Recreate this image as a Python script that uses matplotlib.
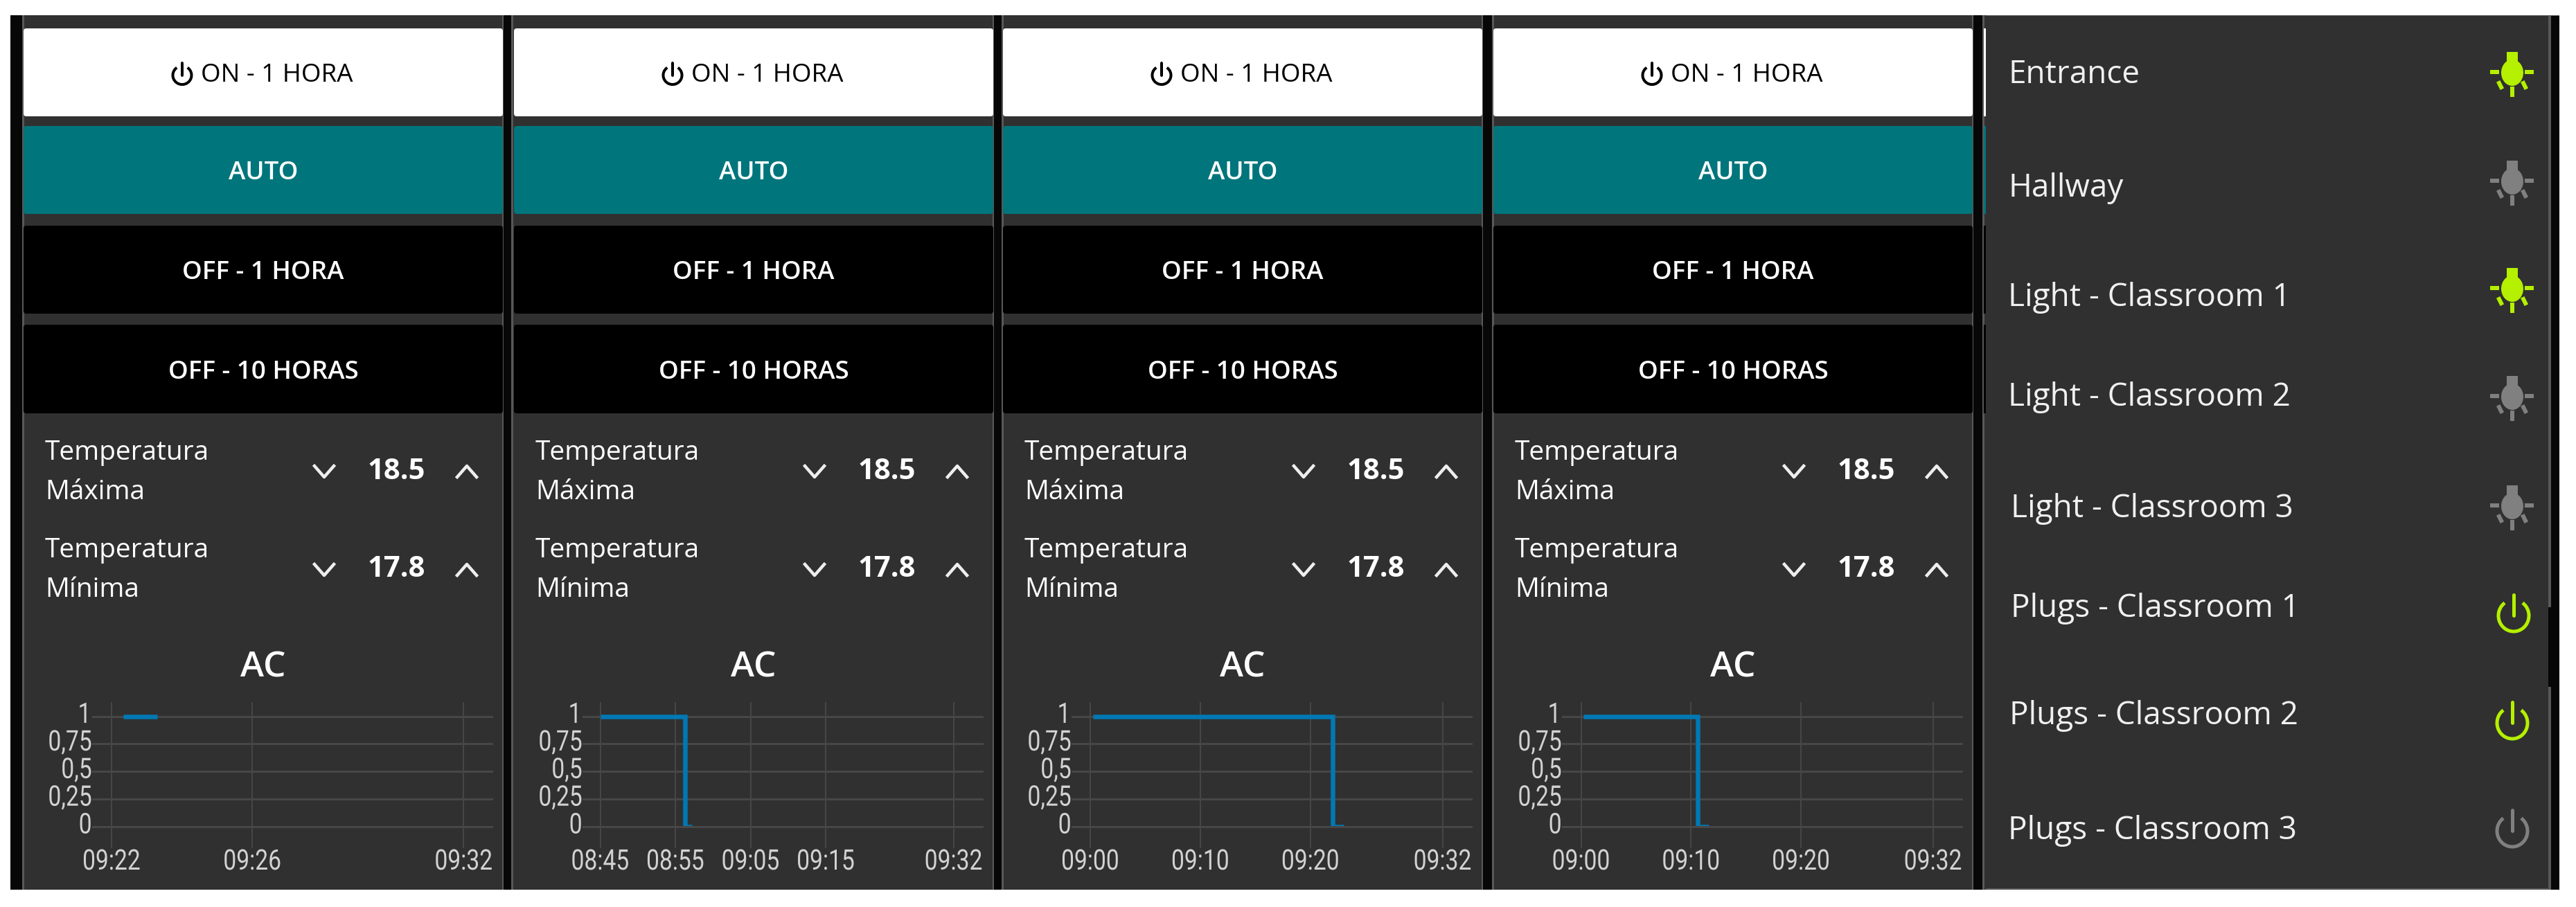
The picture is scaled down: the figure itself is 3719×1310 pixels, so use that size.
import matplotlib
matplotlib.use("Agg")  # No display
import matplotlib.pyplot as plt  # Plotting
from matplotlib.patches import Arc, Ellipse, FancyBboxPatch, Polygon, Rectangle
from matplotlib.patheffects import AbstractPathEffect
from matplotlib.transforms import Affine2D

W, H = 3719, 1310  # Output size in pixels
PX = 72 / 100  # One pixel in points at dpi 100

UI_FONT = ["Open Sans", "DejaVu Sans"]
CHART_FONT = ["Roboto", "DejaVu Sans"]

BG = "#303030"
BAR = "#070707"
EDGE = "#585858"
TEAL = "#00757c"
LINE = "#0078b4"
LIME = "#b4f000"
GREY = "#808080"

BUTTONS = ["AUTO", "OFF - 1 HORA", "OFF - 10 HORAS"]
ON_LABEL = "ON - 1 HORA"
TEMP_MAX = "18.5"
TEMP_MIN = "17.8"

Y_TICKS = [0, 0.25, 0.5, 0.75, 1]
Y_LABELS = ["0", "0,25", "0,5", "0,75", "1"]

# Chart data, times in minutes after midnight
X_LABELS_1 = ["09:22", "09:26", "09:32"]
X_LABELS_2 = ["08:45", "08:55", "09:05", "09:15", "09:32"]
X_LABELS_3 = ["09:00", "09:10", "09:20", "09:32"]
X_LABELS_4 = ["09:00", "09:10", "09:20", "09:32"]
TIMES_1 = [562.33, 563.3]
VALUES_1 = [1, 1]
TIMES_2 = [525.0, 536.3, 536.3, 537.2]
VALUES_2 = [1, 1, 0, 0]
TIMES_3 = [540.25, 562.0, 562.0, 563.0]
VALUES_3 = [1, 1, 0, 0]
TIMES_4 = [540.2, 550.6, 550.6, 551.6]
VALUES_4 = [1, 1, 0, 0]

ROOMS = ["Entrance", "Hallway", "Light - Classroom 1", "Light - Classroom 2", "Light - Classroom 3",
         "Plugs - Classroom 1", "Plugs - Classroom 2", "Plugs - Classroom 3"]
ROOM_ON = [True, False, True, False, False, True, True, False]
ROOM_X = [2899, 2899, 2899, 2899, 2903, 2903, 2901, 2899]
ROOM_BASE = [120, 284, 442, 586, 747, 891, 1046, 1212]
BULB_Y = [103, 260, 415, 571, 729]
PLUG_BOTTOM = [912, 1067, 1223]
PLUG_X = [3629, 3627, 3627]

# Panel layout in pixels
PANEL_SPANS = [(32, 727), (738, 1435), (1446, 2141), (2154, 2849)]
OFFSETS = [0, 708, 1414, 2122]
XLIMS = [(561.45, 572.83), (522.65, 575.95), (538.3, 574.7), (538.26, 574.7)]
BUTTON_ROWS = [(41, 168), (182, 309), (326, 453), (469, 597)]
BUTTON_COLORS = ["white", TEAL, "black", "black"]


class Squeeze(AbstractPathEffect):
    # The screenshot is narrower than the fonts here, so squeeze glyphs sideways
    def __init__(self, sx, anchor, dy=0):
        super().__init__()
        self.sx, self.anchor, self.dy = sx, anchor, dy

    def draw_path(self, renderer, gc, tpath, affine, rgbFace=None):
        xs = tpath.vertices[:, 0]
        ref = xs.max() if self.anchor == "right" else (xs.min() + xs.max()) / 2
        squeeze = Affine2D().translate(-ref, 0).scale(self.sx, 1).translate(ref, 0)
        renderer.draw_path(gc, tpath, squeeze + affine + Affine2D().translate(0, self.dy), rgbFace)


def rect(ax, x0, y0, x1, y1, color, z=1):
    ax.add_patch(Rectangle((x0, y0), x1 - x0, y1 - y0, facecolor=color, edgecolor="none", zorder=z))


def button(ax, x0, y0, x1, y1, color):
    ax.add_patch(FancyBboxPatch((x0 + 4, y0 + 4), x1 - x0 - 8, y1 - y0 - 8, boxstyle="round,pad=4,rounding_size=4",
                                facecolor=color, edgecolor="none", zorder=3))


def draw_power(ax, cx, top, bottom, width, color, lw=5):
    height = (bottom - top) * 0.86
    cy = bottom - height / 2
    ax.add_patch(Arc((cx, cy), width, height, theta1=-55, theta2=235, color=color, lw=lw * PX, zorder=4))
    ax.plot([cx, cx], [top, cy], color=color, lw=lw * PX, zorder=4, solid_capstyle="round")


def draw_bulb(ax, cx, cy, color):
    ax.add_patch(Ellipse((cx, cy + 2), 32, 38, facecolor=color, edgecolor="none", zorder=4))
    ax.add_patch(Polygon([(cx - 8, cy - 28), (cx + 8, cy - 28), (cx + 8, cy - 14), (cx + 13, cy - 8), (cx - 13, cy - 8), (cx - 8, cy - 14)],
                         facecolor=color, edgecolor="none", zorder=4))
    for dx0, dy0, dx1, dy1 in [(-29, 1, -22, 1), (21, 1, 28, 1), (-19, 17, -16, 23), (16, 17, 19, 23), (0, 25, 0, 34)]:
        ax.plot([cx + dx0, cx + dx1], [cy + dy0, cy + dy1], color=color, lw=6 * PX, zorder=4)


def chevron(ax, cx, cy, up):
    sign = 1 if up else -1
    ax.plot([cx - 14, cx, cx + 14], [cy + sign * 8, cy - sign * 8, cy + sign * 8], color="#eeeeee", lw=4.5 * PX, zorder=4)


def draw_chart(fig, off, labels, times, values, xlim):
    x0, x1 = 133 + off, 711.5 + off
    y0, y1 = 1014, 1225
    ax = fig.add_axes([x0 / W, 1 - y1 / H, (x1 - x0) / W, (y1 - y0) / H])
    ax.patch.set_alpha(0)
    ax.set_xlim(*xlim)
    ax.set_ylim(-0.194, 1.129)
    for spine in ax.spines.values():
        spine.set_visible(False)

    ticks = [int(t[:2]) * 60 + int(t[3:]) for t in labels]
    ax.set_xticks(ticks, labels)
    ax.set_yticks(Y_TICKS, Y_LABELS)
    ax.tick_params(length=0, labelsize=29.5, labelcolor="#d2d2d2", pad=0)
    for lab in ax.get_xticklabels():
        lab.set_family(CHART_FONT)
        lab.set_path_effects([Squeeze(0.82, "center")])
    for lab in ax.get_yticklabels():
        lab.set_family(CHART_FONT)
        lab.set_path_effects([Squeeze(0.82, "right", dy=6)])
    ax.grid(True, axis="x", color="#464646", lw=2 * PX)
    ax.grid(True, axis="y", color="#474747", lw=3 * PX)
    ax.set_axisbelow(True)

    line, = ax.plot(times, values, color=LINE, lw=6.5 * PX, solid_joinstyle="miter", solid_capstyle="butt", zorder=3)
    # The chart cuts the line off just above the zero grid line
    line.set_clip_path(Rectangle((xlim[0], 0.006), xlim[1] - xlim[0], 1.2, transform=ax.transData))


def main():
    fig = plt.figure(figsize=(W / 100, H / 100), dpi=100, facecolor="white")
    ax = fig.add_axes([0, 0, 1, 1])
    ax.set_xlim(0, W)
    ax.set_ylim(H, 0)
    ax.axis("off")

    # Frame and panels
    rect(ax, 15, 22, 3695, 1285, BAR)
    for x0, x1 in PANEL_SPANS:
        rect(ax, x0, 22, x1, 1285, BG)
        rect(ax, x0, 22, x0 + 2.5, 1285, EDGE, 2)
        rect(ax, x1 - 2.5, 22, x1, 1285, EDGE, 2)
    rect(ax, 2862, 22, 3679, 1285, BG)
    rect(ax, 2862, 22, 2864.5, 1285, EDGE, 2)
    rect(ax, 3679, 22, 3683, 877, EDGE, 2)
    rect(ax, 3679, 992, 3683, 1285, EDGE, 2)
    rect(ax, 2867, 22, 3695, 23, EDGE, 2)
    rect(ax, 2867, 1283, 3679, 1285, EDGE, 2)

    # Edge of a hidden button column shows beside the room list
    for (y0, y1), color in zip(BUTTON_ROWS, BUTTON_COLORS):
        rect(ax, 2864, y0, 2867, y1, color, 2)

    all_labels = [X_LABELS_1, X_LABELS_2, X_LABELS_3, X_LABELS_4]
    all_times = [TIMES_1, TIMES_2, TIMES_3, TIMES_4]
    all_values = [VALUES_1, VALUES_2, VALUES_3, VALUES_4]

    for i, off in enumerate(OFFSETS):
        # Buttons
        for (y0, y1), color in zip(BUTTON_ROWS, BUTTON_COLORS):
            button(ax, 34 + off, y0, 726 + off, y1, color)
        draw_power(ax, 263 + off, 91, 122, 27, "black", lw=4)
        ax.text(290 + off, 118, ON_LABEL, family=UI_FONT, fontsize=26.5, color="black", va="baseline", ha="left", zorder=5)
        for label, base in zip(BUTTONS, [259, 403, 547]):
            ax.text(380 + off, base, label, family=UI_FONT, fontsize=26.5, weight="semibold", color="white",
                    va="baseline", ha="center", zorder=5)

        # Temperature rows
        for word, base in zip(["Temperatura", "Máxima", "Temperatura", "Mínima"], [664, 721, 805, 862]):
            ax.text(65 + off, base, word, family=UI_FONT, fontsize=28, color="white", va="baseline", zorder=5)
        for value, base, cy in zip([TEMP_MAX, TEMP_MIN], [692, 833], [681, 823]):
            ax.text(572 + off, base, value, family=UI_FONT, fontsize=30, weight="bold", color="white",
                    va="baseline", ha="center", zorder=5)
            chevron(ax, 468 + off, cy, False)
            chevron(ax, 674 + off, cy, True)

        ax.text(380 + off, 977, "AC", family=UI_FONT, fontsize=37, weight="semibold", color="white", va="baseline", ha="center", zorder=5)
        draw_chart(fig, off, all_labels[i], all_times[i], all_values[i], XLIMS[i])

    # Room list
    for name, x, base in zip(ROOMS, ROOM_X, ROOM_BASE):
        ax.text(x, base, name, family=UI_FONT, fontsize=33, color="#f0f0f0", va="baseline", zorder=5)
    for cy, state in zip(BULB_Y, ROOM_ON[:5]):
        draw_bulb(ax, 3627, cy, LIME if state else GREY)
    for x, bottom, state in zip(PLUG_X, PLUG_BOTTOM, ROOM_ON[5:]):
        draw_power(ax, x, bottom - 53, bottom, 44, LIME if state else GREY)

    fig.savefig("out.png", dpi=100, facecolor="white")
    plt.close(fig)


if __name__ == "__main__":
    main()
